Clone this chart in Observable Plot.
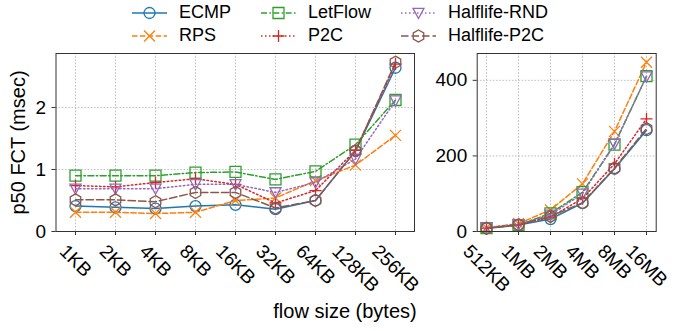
<!DOCTYPE html>
<html><head><meta charset="utf-8">
<script src="https://cdn.jsdelivr.net/npm/d3@7"></script>
<script src="https://cdn.jsdelivr.net/npm/@observablehq/plot@0.6"></script>
<style>
body{margin:0;background:#fff;font-family:"Liberation Sans",Arial,sans-serif;}
#wrap{position:relative;width:682px;height:331px;overflow:hidden;background:#fff}
#left{position:absolute;left:0;top:0}
#right{position:absolute;left:420px;top:0}
#legend{position:absolute;left:132px;top:1px;display:grid;grid-auto-flow:column;grid-template-rows:23.3px 23.3px;column-gap:30px;font-size:18px;color:#000}
.entry{display:flex;align-items:center;white-space:nowrap}
.entry svg{margin-right:12px;overflow:visible}
#xlabel{position:absolute;top:300px;left:0;width:690px;text-align:center;font-size:20px;color:#000}
</style></head>
<body>
<div id="wrap">
  <div id="left"></div>
  <div id="right"></div>
  <div id="legend"></div>
  <div id="xlabel">flow size (bytes)</div>
</div>
<script>
// ---- data ----
const series = ["ECMP", "RPS", "LetFlow", "P2C", "Halflife-RND", "Halflife-P2C"];
const smallSizes = ["1KB", "2KB", "4KB", "8KB", "16KB", "32KB", "64KB", "128KB", "256KB"];
const largeSizes = ["512KB", "1MB", "2MB", "4MB", "8MB", "16MB"];

const ecmpSmall    = [0.41, 0.39, 0.37, 0.41, 0.43, 0.36, 0.50, 1.30, 2.64];
const rpsSmall     = [0.31, 0.31, 0.29, 0.31, 0.50, 0.54, 0.82, 1.07, 1.55];
const letflowSmall = [0.90, 0.90, 0.90, 0.95, 0.96, 0.84, 0.97, 1.40, 2.12];
const p2cSmall     = [0.74, 0.72, 0.79, 0.85, 0.76, 0.46, 0.66, 1.31, 2.70];
const hlRndSmall   = [0.69, 0.69, 0.69, 0.76, 0.76, 0.63, 0.79, 1.17, 2.11];
const hlP2cSmall   = [0.51, 0.51, 0.48, 0.63, 0.63, 0.38, 0.50, 1.30, 2.73];

const ecmpLarge    = [8, 17, 33, 75, 166, 268];
const rpsLarge     = [10, 21, 57, 126, 265, 448];
const letflowLarge = [9, 17, 48, 104, 230, 411];
const p2cLarge     = [9, 18, 38, 87, 179, 298];
const hlRndLarge   = [10, 19, 44, 100, 232, 410];
const hlP2cLarge   = [9, 18, 40, 76, 168, 272];

const yTicksSmall = [0, 1, 2];
const yTicksLarge = [0, 200, 400];
const yLabel = "p50 FCT (msec)";

// ---- styles ----
const colors = ["#1f77b4", "#ff7f0e", "#2ca02c", "#d62728", "#9467bd", "#8c564b"];
const dashes = [null, "5.5,2.4", "6,2.4,1.5,2.4", "1.5,2.5", "1.5,2.5", "7.5,3"];
function sym(fn) { return {draw(ctx, size) { fn(ctx, Math.sqrt(size / Math.PI)); }}; }
const symbols = [
  sym((c, r) => { c.moveTo(r, 0); c.arc(0, 0, r, 0, 2 * Math.PI); }),
  sym((c, r) => { c.moveTo(-r, -r); c.lineTo(r, r); c.moveTo(r, -r); c.lineTo(-r, r); }),
  sym((c, r) => { c.moveTo(-r, -r); c.lineTo(r, -r); c.lineTo(r, r); c.lineTo(-r, r); c.closePath(); }),
  sym((c, r) => { const s = r * 1.1; c.moveTo(-s, 0); c.lineTo(s, 0); c.moveTo(0, -s); c.lineTo(0, s); }),
  sym((c, r) => { c.moveTo(0, r); c.lineTo(-r, -r * 0.85); c.lineTo(r, -r * 0.85); c.closePath(); }),
  sym((c, r) => { const R = r * 1.1; for (let k = 0; k < 6; k++) { const a = (-90 + 60 * k) * Math.PI / 180; k ? c.lineTo(R * Math.cos(a), R * Math.sin(a)) : c.moveTo(R * Math.cos(a), R * Math.sin(a)); } c.closePath(); })
];
const R = 5.5, FS = 19, LFS = 20;
const FONT = "'Liberation Sans', Arial, sans-serif";

const canvas = document.createElement("canvas").getContext("2d");
canvas.font = `${FS}px ${FONT}`;

function panel(cats, valueArrays, yDomain, yTicks, opts) {
  const rows = valueArrays.map(vals => cats.map((c, j) => ({c, v: vals[j]})));
  const labelMarks = cats.map(c => {
    const L = canvas.measureText(c).width;
    const half = 0.7071 * (L + 0.716 * FS) / 2;
    return Plot.text([c], {x: d => d, text: d => d, frameAnchor: "bottom", rotate: 45,
      textAnchor: "middle", lineAnchor: "middle", dy: 12 + half, fontSize: FS, fill: "#000"});
  });
  return Plot.plot({
    width: opts.width, height: 331,
    marginLeft: opts.ml, marginRight: opts.mr, marginTop: 53, marginBottom: 100,
    style: {fontFamily: FONT, fontSize: FS + "px", background: "transparent", overflow: "visible"},
    x: {type: "point", domain: cats, padding: opts.pad, label: null},
    y: {domain: yDomain, label: null},
    marks: [
      Plot.gridX(cats, {stroke: "#b0b0b0", strokeOpacity: 1, strokeWidth: 0.8, strokeDasharray: "1.6,1.6"}),
      Plot.gridY(yTicks, {stroke: "#b0b0b0", strokeOpacity: 1, strokeWidth: 0.8, strokeDasharray: "1.6,1.6"}),
      Plot.axisX({tickSize: 4, tickFormat: () => "", label: null, stroke: "#333"}),
      Plot.axisY({ticks: yTicks, tickSize: 4, tickPadding: 6, tickFormat: d3.format("d"), label: null, fontSize: FS, fill: "#000", stroke: "#333"}),
      ...labelMarks,
      opts.ylabel ? Plot.text([opts.ylabel], {text: d => d, frameAnchor: "left", rotate: -90, textAnchor: "middle", lineAnchor: "middle", dx: -37, fontSize: LFS, fill: "#000"}) : null,
      ...rows.flatMap((data, i) => [
        Plot.line(data, {x: "c", y: "v", stroke: colors[i], strokeWidth: 1.5, strokeDasharray: dashes[i] || undefined}),
        Plot.dot(data, {x: "c", y: "v", symbol: symbols[i], r: R, stroke: colors[i], strokeWidth: 1.3, fill: "none"})
      ]),
      Plot.frame({stroke: "#333", strokeWidth: 1})
    ]
  });
}

document.getElementById("left").appendChild(panel(smallSizes,
  [ecmpSmall, rpsSmall, letflowSmall, p2cSmall, hlRndSmall, hlP2cSmall],
  [0, 2.87], yTicksSmall, {width: 420, ml: 55.5, mr: 6, pad: 0.4, ylabel: yLabel}));
document.getElementById("right").appendChild(panel(largeSizes,
  [ecmpLarge, rpsLarge, letflowLarge, p2cLarge, hlRndLarge, hlP2cLarge],
  [0, 471], yTicksLarge, {width: 262, ml: 56.7, mr: 26.3, pad: 0.25}));

// legend
const leg = document.getElementById("legend");
series.forEach((name, i) => {
  const e = document.createElement("div");
  e.className = "entry";
  const path = d3.symbol(symbols[i], Math.PI * R * R)();
  e.innerHTML = `<svg width="35" height="16" viewBox="0 -8 35 16">
    <line x1="0" x2="35" y1="0" y2="0" stroke="${colors[i]}" stroke-width="1.5" ${dashes[i] ? `stroke-dasharray="${dashes[i]}"` : ""}/>
    <path transform="translate(17.5,0)" d="${path}" fill="none" stroke="${colors[i]}" stroke-width="1.3"/>
  </svg><span>${name}</span>`;
  leg.appendChild(e);
});
</script>
</body></html>
